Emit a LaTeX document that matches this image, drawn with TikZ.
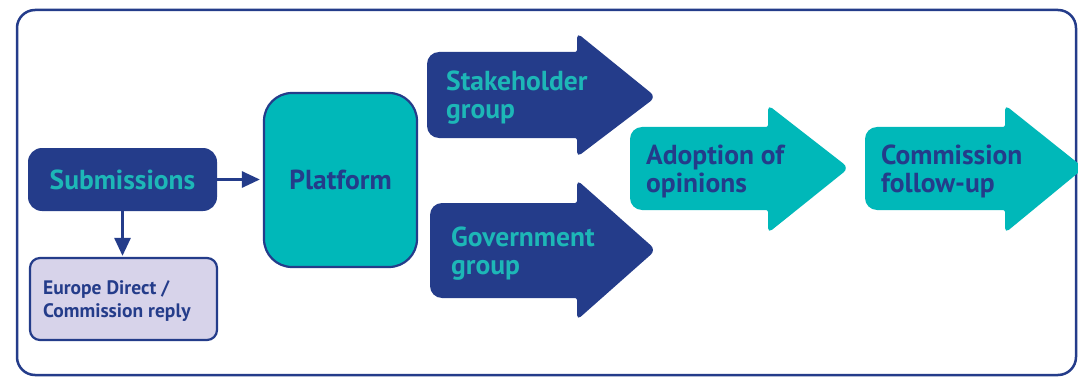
\documentclass[tikz,border=0pt]{standalone}
\usepackage{fontspec}
\setmainfont{PT Sans}
\usetikzlibrary{arrows.meta}
\definecolor{ecblue}{HTML}{243C8A}
\definecolor{ecteal}{HTML}{00B8B9}
\definecolor{ectealtxt}{HTML}{1DB7B7}
\definecolor{eclav}{HTML}{D7D3EA}
\tikzset{
  frame/.style={draw=ecblue, line width=2.5pt, rounded corners=18pt},
  subbox/.style={fill=ecblue, rounded corners=14pt, inner sep=0pt},
  platbox/.style={fill=ecteal, draw=ecblue, line width=2.2pt, rounded corners=28pt, inner sep=0pt},
  eurbox/.style={fill=eclav, draw=ecblue, line width=2.2pt, rounded corners=10pt, inner sep=0pt},
  bigfont/.style={font=\bfseries\fontsize{27.5}{28}\selectfont},
  bigtxt/.style={bigfont, align=left, anchor=west, inner sep=0pt},
  smalltxt/.style={font=\bfseries\fontsize{19.5}{23}\selectfont, text=ecblue, align=left, anchor=west, inner sep=0pt},
  conn/.style={draw=ecblue, line width=2.8pt, -{Triangle[length=18pt,width=16pt]}},
}
\newcommand{\flowarrow}[9]{%
  \fill[#9] (#1,#2) [rounded corners=12pt] -- (#1,#3) [rounded corners=2pt] -- (#4,#3) [rounded corners=5pt] -- (#4,#6) [rounded corners=7pt] -- (#7,#8) [rounded corners=5pt] -- (#4,#5) [rounded corners=2pt] -- (#4,#2) [rounded corners=12pt] -- cycle;}
\begin{document}
\begin{tikzpicture}[x=1pt,y=-1pt]
\useasboundingbox (0,0) rectangle (1078,377);
\clip (0,0) rectangle (1078,377);
\fill[white] (0,0) rectangle (1078,377);
\draw[frame] (17,10) rectangle (1076,375);
% flow arrows: left, top, bottom, headx, headtop, headbottom, tipx, tipy, colour
\flowarrow{427}{52}{138}{577}{33}{157}{656}{97}{ecblue}
\flowarrow{430}{203}{298}{577}{180}{320}{656}{250}{ecblue}
\flowarrow{630}{127}{210}{768}{105}{233}{849}{168}{ecteal}
\flowarrow{865}{127}{210}{1005}{105}{233}{1084}{168}{ecteal}
% boxes
\node[subbox, minimum width=189pt, minimum height=63pt] (sub) at (122.5,179.5) {};
\node[bigfont, text=ectealtxt] (subt) at (sub.center) {Submissions};
\node[platbox, minimum width=153pt, minimum height=174pt] (plat) at (340.5,180) {};
\node[bigfont, text=ecblue] (platt) at (plat.center) {Platform};
\node[eurbox, minimum width=187pt, minimum height=82pt] (eur) at (123.5,299) {};
\node[smalltxt] (eurt) at (43,301) {Europe Direct /\\Commission reply};
% arrow labels
\node[bigtxt, text=ectealtxt] (stk) at (446,98) {Stakeholder\\group};
\node[bigtxt, text=ectealtxt] (gov) at (451,254) {Government\\group};
\node[bigtxt, text=ecblue] (ado) at (646,171) {Adoption of\\opinions};
\node[bigtxt, text=ecblue] (com) at (881,171) {Commission\\follow-up};
% connectors
\draw[conn, shorten >=3pt] (sub.east) -- (sub.east -| plat.west);
\draw[conn, shorten >=1pt] (sub.south) -- (sub.south |- eur.north);
\end{tikzpicture}
\end{document}
